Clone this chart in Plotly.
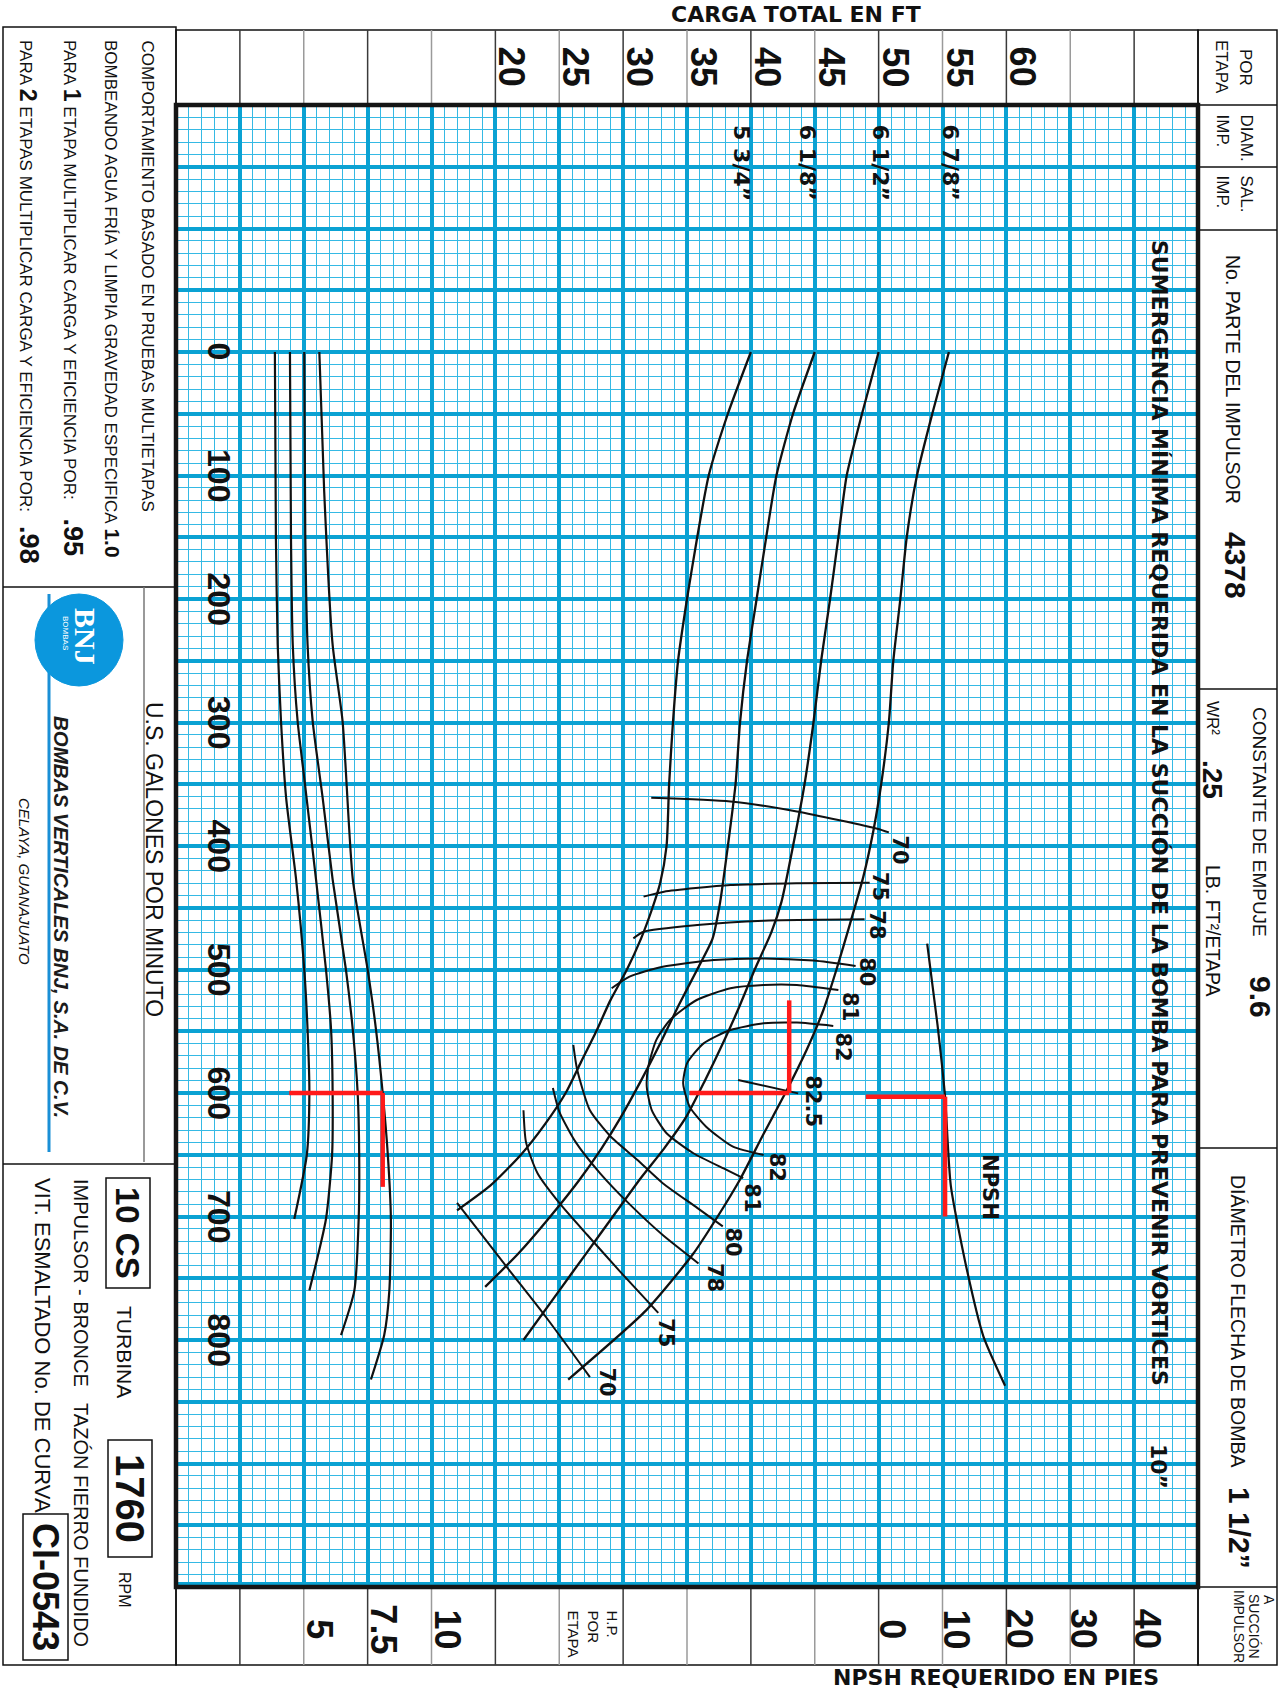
import plotly.graph_objects as go

# ---------------------------------------------------------------- page geometry
FIG_W, FIG_H = 1286, 1690
PX0, PX1, PY0, PY1 = 176, 1198, 105, 1587      # plotting area (pixels)

HEAD_RANGE = [-5, 75]          # CARGA TOTAL EN FT
FLOW_RANGE = [1000, -200]      # U.S. GALONES POR MINUTO (downwards)
HP_RANGE = [0, 40]             # H.P. POR ETAPA
NPSH_RANGE = [-110, 50]        # NPSH REQUERIDO EN PIES

# ---------------------------------------------------------------- head curves
diam_labels = ["5 3/4”", "6 1/8”", "6 1/2”", "6 7/8”"]
diam_label_head = [39.3, 44.5, 50.2, 55.7]

q_575 = [0, 50, 100, 150, 200, 250, 300, 350, 400, 430, 450, 475, 500, 525, 550, 575, 600, 625, 650, 675, 695]
h_575 = [40.0, 38.2, 36.7, 35.8, 35.0, 34.3, 33.9, 33.6, 33.4, 32.9, 32.3, 31.4, 30.3, 29.0, 27.9, 26.7, 25.5, 23.9, 22.0, 19.6, 17.0]

q_618 = [0, 50, 100, 150, 200, 250, 300, 350, 400, 445, 475, 500, 530, 560, 590, 620, 645, 670, 700, 730, 757]
h_618 = [45.0, 43.3, 42.0, 41.2, 40.45, 39.7, 39.15, 38.8, 38.2, 37.6, 37.0, 35.8, 34.3, 32.9, 31.4, 29.8, 28.3, 26.6, 24.3, 21.8, 19.2]

q_612 = [0, 50, 100, 150, 200, 250, 300, 350, 400, 445, 470, 500, 530, 560, 590, 620, 645, 670, 700, 730, 760, 800]
h_612 = [50.0, 48.7, 47.5, 46.85, 46.2, 45.5, 44.9, 44.2, 43.3, 42.4, 41.6, 40.3, 39.1, 37.8, 36.4, 34.9, 33.2, 31.3, 29.2, 27.1, 25.0, 22.2]

q_678 = [0, 50, 100, 150, 200, 250, 300, 350, 387, 425, 463, 500, 533, 565, 598, 633, 670, 700, 730, 776, 832]
h_678 = [55.5, 54.2, 53.0, 52.2, 51.7, 51.15, 50.8, 50.2, 49.6, 48.8, 47.76, 46.7, 45.67, 44.37, 42.8, 41.0, 39.15, 37.4, 35.5, 31.8, 25.7]

# ---------------------------------------------------------------- efficiency (%)
eff_70u_h = [32.2, 38.4, 43.6, 49.9, 50.8]
eff_70u_q = [361, 364, 372, 386, 389]
eff_75u_h = [31.6, 33.2, 38.4, 43.6, 49.3]
eff_75u_q = [441, 437, 431.6, 430.2, 429.7]
eff_78u_h = [30.8, 31.6, 35.8, 41.0, 48.9]
eff_78u_q = [474.8, 469.4, 464, 460.5, 459.4]
eff_80u_h = [29.1, 30.5, 33.1, 37.1, 41.0, 44.9, 48.2]
eff_80u_q = [515.2, 505.8, 497.7, 492.3, 491, 492.8, 497.2]
eff_81_h = [46.85, 43.6, 41.0, 38.4, 35.76, 33.67, 32.6, 31.97, 31.85, 32.24, 33.4, 35.5, 38.1, 39.4]
eff_81_q = [516.6, 512.6, 512.6, 515.2, 524.7, 540.9, 557, 578.7, 594.9, 613.8, 632.6, 648.8, 662.3, 669]
eff_82_h = [46.45, 43.6, 41.0, 38.4, 36.3, 35.0, 34.7, 35.2, 36.5, 38.6, 41.0]
eff_82_q = [545.7, 543, 543.6, 549, 559.8, 576, 592.2, 611, 627.3, 643.5, 650.2]
eff_825_h = [39.0, 43.7]
eff_825_q = [589.5, 600.3]
eff_80l_h = [26.1, 26.4, 27.4, 29.0, 31.1, 33.1, 35.8, 37.8]
eff_80l_q = [561, 581, 614, 635, 654, 673, 693, 708]
eff_78l_h = [24.5, 25.0, 26.3, 28.2, 30.5, 33.1, 35.9]
eff_78l_q = [596, 615, 640, 665, 690, 715, 738]
eff_75l_h = [22.2, 22.4, 23.3, 25.0, 27.2, 29.8, 32.75]
eff_75l_q = [614, 640, 665, 689, 715, 745, 778]
eff_70l_h = [17.0, 20.9, 24.0, 27.4]
eff_70l_q = [689, 741, 782, 830]

eff_labels = ["70", "75", "78", "80", "81", "82", "82.5", "82", "81", "80", "78", "75", "70"]
eff_label_h = [51.7, 50.1, 49.85, 49.07, 47.8, 47.2, 44.9, 42.0, 40.06, 38.6, 37.2, 33.4, 28.7]
eff_label_q = [403, 433, 464, 502, 530, 563, 607, 660, 685, 721, 749, 794, 834]

# ---------------------------------------------------------------- power per stage
hp_q_575 = [0, 150, 237, 299, 361, 427, 500, 549, 600, 650, 702]
hp_575 = [3.87, 3.91, 3.98, 4.11, 4.31, 4.70, 5.02, 5.15, 5.22, 5.12, 4.63]
hp_q_618 = [0, 150, 237, 299, 345, 427, 500, 549, 600, 650, 702, 760]
hp_618 = [4.46, 4.50, 4.57, 4.76, 5.02, 5.48, 5.87, 6.07, 6.13, 6.11, 5.87, 5.22]
hp_q_612 = [0, 150, 237, 299, 361, 427, 500, 549, 600, 650, 702, 760, 796]
hp_612 = [5.02, 5.06, 5.15, 5.35, 5.74, 6.13, 6.65, 6.92, 7.11, 7.17, 7.15, 6.98, 6.46]
hp_q_678 = [0, 113, 237, 299, 427, 500, 549, 600, 650, 702, 760, 796, 832]
hp_678 = [5.61, 5.80, 6.13, 6.52, 6.92, 7.50, 7.83, 8.09, 8.29, 8.41, 8.35, 8.15, 7.63]

# ---------------------------------------------------------------- NPSH required
npsh_q = [479, 544, 603, 675, 745, 797, 837]
npsh_ft = [7.6, 9.2, 10.4, 11.3, 13.9, 16.4, 19.8]

# ---------------------------------------------------------------- duty point (red markers)
duty_q = 600
duty_head = 43.0
duty_head_from = 35.2
duty_head_q_top = 525
duty_hp = 8.09
duty_hp_from = 4.43
duty_hp_q_end = 676
duty_npsh_q = 603
duty_npsh = 10.4
duty_npsh_from = -2.0
duty_npsh_q_end = 700

# ---------------------------------------------------------------- axis tick labels
head_ticks = [20, 25, 30, 35, 40, 45, 50, 55, 60]
flow_ticks = [0, 100, 200, 300, 400, 500, 600, 700, 800]
hp_ticks = [5, 7.5, 10]
hp_tick_text = ["5", "7.5", "10"]
npsh_ticks = [0, 10, 20, 30, 40]

# ---------------------------------------------------------------- styles
MAJOR = "#0AA2D3"
MINOR = "#35B9E4"
INK = "#111111"
RED = "#FF1A1A"
ARIAL = "Liberation Sans, Arial, sans-serif"
WIDE = "DejaVu Sans, Verdana, sans-serif"
NB = "\u00a0"


def px(x):
    return (x - PX0) / (PX1 - PX0)


def py(y):
    return (PY1 - y) / (PY1 - PY0)


fig = go.Figure()


def curve(h, q, width=2.2, axis="x", color=INK, shape="spline"):
    fig.add_trace(go.Scatter(
        x=h, y=q, xaxis=axis, yaxis="y", mode="lines",
        line=dict(color=color, width=width, shape=shape, smoothing=0.6),
        hoverinfo="skip", showlegend=False))


# head-capacity curves
for h, q in [(h_575, q_575), (h_618, q_618), (h_612, q_612), (h_678, q_678)]:
    curve(h, q, 2.3)

# iso-efficiency lines
for h, q in [(eff_70u_h, eff_70u_q), (eff_75u_h, eff_75u_q), (eff_78u_h, eff_78u_q),
             (eff_80u_h, eff_80u_q), (eff_81_h, eff_81_q), (eff_82_h, eff_82_q),
             (eff_825_h, eff_825_q), (eff_80l_h, eff_80l_q), (eff_78l_h, eff_78l_q),
             (eff_75l_h, eff_75l_q), (eff_70l_h, eff_70l_q)]:
    curve(h, q, 2.0)

# brake horsepower per stage
for hp, q in [(hp_575, hp_q_575), (hp_618, hp_q_618), (hp_612, hp_q_612), (hp_678, hp_q_678)]:
    curve(hp, q, 2.2, axis="x2")

# NPSH required
curve(npsh_ft, npsh_q, 2.2, axis="x3")

# duty point guides
curve([duty_head_from, duty_head], [duty_q, duty_q], 4.5, color=RED, shape="linear")
curve([duty_head, duty_head], [duty_head_q_top, duty_q], 4.5, color=RED, shape="linear")
curve([duty_hp_from, duty_hp], [duty_q, duty_q], 4.5, axis="x2", color=RED, shape="linear")
curve([duty_hp, duty_hp], [duty_q, duty_hp_q_end], 4.5, axis="x2", color=RED, shape="linear")
curve([duty_npsh_from, duty_npsh], [duty_npsh_q, duty_npsh_q], 4.5, axis="x3", color=RED, shape="linear")
curve([duty_npsh, duty_npsh], [duty_npsh_q, duty_npsh_q_end], 4.5, axis="x3", color=RED, shape="linear")

# ---------------------------------------------------------------- annotations
ann = []


def label(t, xref, x, yref, y, size, family=ARIAL, xshift=0):
    ann.append(dict(text=t, xref=xref, yref=yref, x=x, y=y, xshift=xshift, textangle=90,
                    showarrow=False, xanchor="center", yanchor="middle",
                    font=dict(family=family, size=size, color=INK)))


def text(t, x, y, size, family=ARIAL, xa="center", ya="middle", color=INK, angle=90, align="center"):
    ann.append(dict(text=t, xref="paper", yref="paper", x=px(x), y=py(y), textangle=angle,
                    showarrow=False, font=dict(family=family, size=size, color=color),
                    xanchor=xa, yanchor=ya, align=align, borderpad=0))


# scale labels
for v in head_ticks:
    label(f"<b>{v}</b>", "x", v, "paper", py(67), 36, xshift=17)
for v in flow_ticks:
    label(f"<b>{v}</b>", "x", -1.6, "y", v, 32)
for v, t in zip(hp_ticks, hp_tick_text):
    label(f"<b>{t}</b>", "x2", v, "paper", py(1629), 36, xshift=16)
for v in npsh_ticks:
    label(f"<b>{v}</b>", "x3", v, "paper", py(1629), 36, xshift=14)

# curve labels
for t, h in zip(diam_labels, diam_label_head):
    label(f"<b>{t}</b>", "x", h, "y", -153, 22, WIDE)
for t, h, q in zip(eff_labels, eff_label_h, eff_label_q):
    label(f"<b>{t}</b>", "x", h, "y", q, 21, WIDE)
label("<b>NPSH</b>", "x3", 17.4, "y", 676, 21, WIDE)

text("<b>SUMERGENCIA MÍNIMA REQUERIDA EN LA SUCCIÓN DE LA BOMBA PARA PREVENIR VORTICES</b>",
     1159, 813, 22, WIDE)
text("<b>10”</b>", 1159, 1466, 22, WIDE)

# axis titles
text("<b>CARGA TOTAL EN FT</b>", 796, 15, 22, WIDE, angle=0)
text("<b>NPSH REQUERIDO EN PIES</b>", 996, 1677, 22, WIDE, angle=0)
text("U.S. GALONES POR MINUTO", 154, 859, 23)

# left block: test conditions
text("COMPORTAMIENTO BASADO EN PRUEBAS MULTIETAPAS", 147, 39, 17, ya="top")
text("BOMBEANDO AGUA FRÍA Y LIMPIA GRAVEDAD ESPECIFICA" + NB
     + "<b><span style='font-size:21px'>1.0</span></b>", 112, 39, 17, ya="top")
text("PARA <b><span style='font-size:23px'>1</span></b> ETAPA MULTIPLICAR CARGA Y EFICIENCIA POR:"
     + NB * 4 + "<b><span style='font-size:27px'>.95</span></b>", 73, 39, 17, ya="top")
text("PARA <b><span style='font-size:23px'>2</span></b> ETAPAS MULTIPLICAR CARGA Y EFICIENCIA POR:"
     + NB * 3 + "<b><span style='font-size:27px'>.98</span></b>", 29, 39, 17, ya="top")

# maker
text("<b><i>BOMBAS VERTICALES BNJ, S.A. DE C.V.</i></b>", 62, 917, 20.5, color="#1b1b1b")
text("<i>CELAYA, GUANAJUATO</i>", 25, 881, 15)

# model block
text("<b>10 CS</b>", 128, 1233, 33)
text("TURBINA", 125, 1352, 21)
text("<b>1760</b>", 130, 1498, 40)
text("RPM", 125, 1590, 16)
text("IMPULSOR - BRONCE   TAZÓN FIERRO FUNDIDO", 81, 1413, 20)
text("VIT. ESMALTADO No. DE CURVA", 43, 1345, 22)
text("<b>CI-0543</b>", 46, 1587, 36)

# right block
text("POR", 1246, 67, 17)
text("ETAPA", 1222, 67, 17)
text("DIAM.", 1246, 113, 17, ya="top")
text("IMP.", 1222, 113, 17, ya="top")
text("SAL.", 1246, 174, 17, ya="top")
text("IMP.", 1222, 174, 17, ya="top")
text("No. PARTE DEL IMPULSOR", 1233, 379, 19.5)
text("<b>4378</b>", 1236, 565, 30)
text("CONSTANTE DE EMPUJE", 1259, 822, 19)
text("<b>9.6</b>", 1261, 997, 30)
text("WR²", 1213, 718, 17)
text("<b>.25</b>", 1213, 779, 28)
text("LB. FT²/ETAPA", 1213, 930, 19.5)
text("DIÁMETRO FLECHA DE BOMBA", 1238, 1321, 19.5)
text("<b>1 1/2”</b>", 1240, 1528, 30)
text("A", 1269, 1600, 14)
text("SUCCIÓN", 1254, 1626, 14)
text("IMPULSOR", 1239, 1626, 14)
text("H.P.", 612, 1609, 15, ya="top")
text("POR", 593, 1609, 15, ya="top")
text("ETAPA", 573, 1609, 15, ya="top")

# ---------------------------------------------------------------- frames and boxes
shapes = []


def rect(x0, y0, x1, y1, w=1.5, color=INK, fill=None, kind="rect"):
    shapes.append(dict(type=kind, xref="paper", yref="paper", x0=px(x0), x1=px(x1),
                       y0=py(y0), y1=py(y1), line=dict(color=color, width=w),
                       fillcolor=fill or "rgba(0,0,0,0)", layer="above"))


def seg(x0, y0, x1, y1, w=1.5, color=INK):
    shapes.append(dict(type="line", xref="paper", yref="paper", x0=px(x0), x1=px(x1),
                       y0=py(y0), y1=py(y1), line=dict(color=color, width=w), layer="above"))


# header and footer strips with a column per 5 ft
rect(176, 30, 1198, 105, 1.5)
rect(176, 1587, 1198, 1665, 1.5)
for v in range(0, 75, 5):
    col = "#3a3a3a" if v % 10 == 0 else "#9a9a9a"
    for ya, yb in [(30, 105), (1587, 1665)]:
        shapes.append(dict(type="line", xref="x", yref="paper", x0=v, x1=v, y0=py(ya), y1=py(yb),
                           line=dict(color=col, width=1.5), layer="above"))

# right block
rect(1198, 30, 1277, 1665, 1.5)
for yy in [105, 167, 230, 689, 1148, 1587]:
    seg(1198, yy, 1277, yy, 1.5)

# left block
rect(3, 27, 176, 1665, 1.5)
seg(3, 587, 176, 587, 1.5)
seg(3, 1164, 176, 1164, 1.5)
seg(144, 587, 144, 1162, 1.5, "#777777")
rect(106, 1178, 150, 1288, 1.5)
rect(108, 1440, 152, 1557, 1.5)
rect(23, 1514, 68, 1660, 1.5)

# maker mark
seg(49, 594, 49, 1152, 3, "#1a8fd6")
rect(35, 594, 123, 686, 1, "#0b97dd", "#0b97dd", kind="circle")

# plotting-area border (bottom edge carries a blue rule)
seg(176, 1584, 1198, 1584, 4, MAJOR)
rect(176, 105, 1198, 1587, 4.5, "#151515")

# logo lettering (above the mark)
text("<b>BNJ</b>", 86, 636, 30, "Liberation Serif, serif", color="white")
text("BOMBAS", 66, 633, 8, color="white")

fig.update_layout(
    width=FIG_W, height=FIG_H, autosize=False,
    margin=dict(l=PX0, r=FIG_W - PX1, t=PY0, b=FIG_H - PY1, pad=0),
    paper_bgcolor="white", plot_bgcolor="white",
    showlegend=False,
    xaxis=dict(range=HEAD_RANGE, dtick=5, tick0=0, showgrid=True, gridcolor=MAJOR, gridwidth=3.6,
               minor=dict(dtick=1, tick0=0, showgrid=True, gridcolor=MINOR, gridwidth=1.3),
               showticklabels=False, ticks="", zeroline=False, showline=False, fixedrange=True),
    xaxis2=dict(range=HP_RANGE, overlaying="x", anchor="y", visible=False, showgrid=False,
                fixedrange=True),
    xaxis3=dict(range=NPSH_RANGE, overlaying="x", anchor="y", visible=False, showgrid=False,
                fixedrange=True),
    yaxis=dict(range=FLOW_RANGE, dtick=50, tick0=0, showgrid=True, gridcolor=MAJOR, gridwidth=3.6,
               minor=dict(dtick=10, tick0=0, showgrid=True, gridcolor=MINOR, gridwidth=1.3),
               showticklabels=False, ticks="", zeroline=False, showline=False, fixedrange=True),
    annotations=ann, shapes=shapes,
)

fig.write_html("out.html")
